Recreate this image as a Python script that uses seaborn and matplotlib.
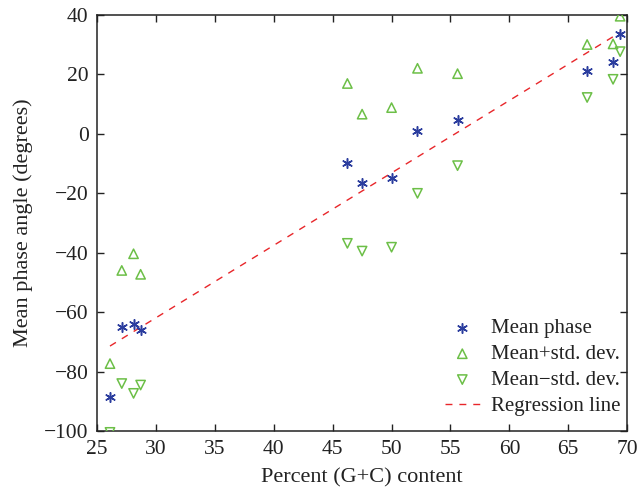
import numpy as np
import pandas as pd
import matplotlib
matplotlib.use("Agg")
import matplotlib.pyplot as plt
import seaborn as sns

gc_content = [26.1, 27.1, 28.1, 28.7, 46.25, 47.5, 50.0, 52.2, 55.6, 66.6, 68.8, 69.4]
mean_phase = [-88.3, -65.0, -63.9, -65.8, -9.9, -16.5, -14.7, 1.0, 4.7, 21.1, 24.2, 33.6]
mean_plus = [-77.2, -45.9, -40.3, -47.2, 16.9, 6.6, 8.8, 22.0, 20.2, 30.0, 30.2, 39.5]
mean_minus = [-100.3, -83.9, -87.2, -84.4, -36.8, -39.4, -38.1, -20.0, -10.7, 12.2, 18.3, 27.6]
xticks = [25, 30, 35, 40, 45, 50, 55, 60, 65, 70]
yticks = [-100, -80, -60, -40, -20, 0, 20, 40]

sns.set_theme(style="white")
plt.rcParams["font.family"] = ["Liberation Serif", "DejaVu Serif"]
plt.rcParams["mathtext.fontset"] = "stix"

df = pd.DataFrame({"x": gc_content, "mean": mean_phase, "plus": mean_plus, "minus": mean_minus})

fig = plt.figure(figsize=(6.4, 4.91), dpi=100)
ax = fig.add_axes([0.1516, 0.1212, 0.8284, 0.8488])

blue = "#2b3d9e"
green = "#6cbf47"
red = "#e8262a"
txt = "#222222"

sns.scatterplot(data=df, x="x", y="mean", ax=ax, marker=(6, 2, 0), s=48, color=blue,
                linewidth=1.1, edgecolor=blue, label="Mean phase", zorder=3)
sns.scatterplot(data=df, x="x", y="plus", ax=ax, marker="^", s=45, facecolor="none",
                edgecolor=green, linewidth=1.1, label="Mean+std. dev.", zorder=3)
sns.scatterplot(data=df, x="x", y="minus", ax=ax, marker="v", s=45, facecolor="none",
                edgecolor=green, linewidth=1.1, label="Mean\u2212std. dev.", zorder=3)

slope, intercept = np.polyfit(df["x"], df["mean"], 1)
xr = np.array([df["x"].min(), df["x"].max()])
reg = pd.DataFrame({"x": xr, "y": slope * xr + intercept})
sns.lineplot(data=reg, x="x", y="y", ax=ax, color=red, linestyle=(0, (5, 5)), linewidth=1.0,
             label="Regression line", zorder=2)

ax.set_xlim(25, 70)
ax.set_ylim(-100, 40)
ax.set_xticks(xticks)
ax.set_yticks(yticks)
ax.set_xlabel("Percent (G+C) content", fontsize=16, color=txt, labelpad=7)
ax.set_ylabel("Mean phase angle (degrees)", fontsize=16, color=txt, labelpad=8)
ax.tick_params(direction="in", length=5, width=1, labelsize=15.5, colors=txt,
               top=True, right=True, bottom=True, left=True, pad=6)
for s in ax.spines.values():
    s.set_visible(True)
    s.set_color(txt)
    s.set_linewidth(1.1)

leg = ax.legend(loc="lower right", bbox_to_anchor=(1.002, 0.02), frameon=False, fontsize=15,
                handlelength=1.7, borderpad=0.2, borderaxespad=0.15, labelspacing=0.3,
                handletextpad=0.55)
for t in leg.get_texts():
    t.set_color(txt)

fig.savefig("out.png", dpi=100)
